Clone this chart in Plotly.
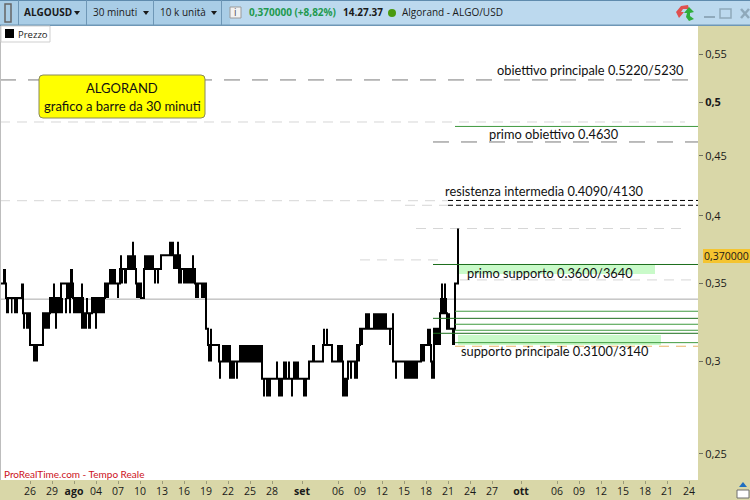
import math

import plotly.graph_objects as go

# one time slot is about 3.3 hours of the 30 minute chart
tick_slots = [30, 52, 74, 96, 118, 140, 162, 184, 206, 228, 250, 272, 302, 338, 360, 382, 404, 426, 448, 470, 492, 521, 557, 579, 601, 623, 645, 667, 689]
tick_labels = ["26", "29", "<b>ago</b>", "04", "07", "10", "13", "16", "19", "22", "25", "28", "<b>set</b>", "06", "09", "12", "15", "18", "21", "24", "27", "<b>ott</b>", "06", "09", "12", "15", "18", "21", "24"]
price_ticks = [0.25, 0.3, 0.35, 0.4, 0.45, 0.5, 0.55]
price_labels = ["0,25", "0,3", "0,35", "0,4", "0,45", "<b>0,5</b>", "0,55"]

step_slots = [1, 6, 23, 30, 43, 50, 61, 67, 68, 73, 83, 92, 105, 120, 136, 141, 144, 161, 180, 195, 206, 208, 219, 262, 309, 323, 332, 343, 348, 357, 360, 393, 421, 431, 434, 440, 447, 455, 458, 459]
step_prices = [0.35, 0.34, 0.33, 0.31, 0.33, 0.34, 0.35, 0.34, 0.35, 0.34, 0.33, 0.34, 0.35, 0.36, 0.35, 0.34, 0.36, 0.37, 0.36, 0.35, 0.32, 0.31, 0.30, 0.29, 0.30, 0.31, 0.30, 0.29, 0.30, 0.31, 0.32, 0.30, 0.31, 0.30, 0.32, 0.33, 0.32, 0.35, 0.37, 0.37]

block_start = [3, 6, 11, 14, 21, 23, 26, 33, 42, 49, 53, 55, 65, 68, 70, 69, 73, 81, 81, 86, 88, 92, 95, 104, 109, 117, 120, 121, 124, 127, 132, 136, 144, 154, 157, 169, 173, 177, 178, 183, 192, 195, 201, 207, 208, 210, 219, 222, 229, 236, 239, 263, 266, 276, 278, 283, 288, 291, 293, 303, 312, 323, 326, 337, 342, 350, 354, 356, 360, 365, 373, 389, 392, 395, 404, 421, 427, 431, 434, 440, 441, 444, 446, 452, 457]
block_end = [6, 9, 12.5, 18, 24, 25, 30, 38, 50, 63, 55, 57, 67, 73, 73, 71, 83, 83, 87, 88, 91, 105, 97, 109, 116, 119, 122, 123, 127, 136, 134, 141, 154, 156, 159, 174, 180, 179, 182, 195, 194, 199, 205, 209, 212, 212, 221, 231, 235, 238, 263, 265, 271, 278, 283, 287, 290, 293, 299, 307, 315, 325, 328, 343, 348, 352, 358, 360, 363, 370, 387, 391, 394, 397, 418, 425, 431, 435, 441, 447, 443, 446, 450, 455, 459]
block_high = [0.36, 0.34, 0.34, 0.34, 0.35, 0.33, 0.33, 0.31, 0.33, 0.34, 0.35, 0.33, 0.34, 0.35, 0.36, 0.34, 0.34, 0.35, 0.33, 0.34, 0.33, 0.34, 0.33, 0.35, 0.36, 0.35, 0.37, 0.36, 0.36, 0.37, 0.38, 0.35, 0.37, 0.36, 0.36, 0.38, 0.37, 0.38, 0.36, 0.36, 0.37, 0.35, 0.35, 0.32, 0.31, 0.32, 0.30, 0.31, 0.30, 0.30, 0.31, 0.29, 0.29, 0.30, 0.29, 0.30, 0.30, 0.29, 0.30, 0.29, 0.31, 0.32, 0.32, 0.31, 0.29, 0.30, 0.30, 0.31, 0.32, 0.33, 0.33, 0.32, 0.33, 0.30, 0.30, 0.31, 0.32, 0.30, 0.32, 0.34, 0.35, 0.35, 0.33, 0.32, 0.39]
block_low = [0.35, 0.33, 0.33, 0.33, 0.34, 0.32, 0.32, 0.30, 0.32, 0.33, 0.34, 0.32, 0.33, 0.34, 0.35, 0.33, 0.33, 0.34, 0.32, 0.33, 0.32, 0.33, 0.32, 0.34, 0.35, 0.34, 0.36, 0.35, 0.35, 0.36, 0.37, 0.34, 0.36, 0.35, 0.35, 0.37, 0.36, 0.37, 0.35, 0.35, 0.36, 0.34, 0.34, 0.31, 0.30, 0.31, 0.29, 0.30, 0.29, 0.29, 0.30, 0.28, 0.28, 0.29, 0.28, 0.29, 0.29, 0.28, 0.29, 0.28, 0.30, 0.31, 0.31, 0.30, 0.28, 0.29, 0.29, 0.30, 0.31, 0.32, 0.32, 0.31, 0.32, 0.29, 0.29, 0.30, 0.31, 0.29, 0.31, 0.33, 0.34, 0.34, 0.32, 0.31, 0.35]

# horizontal levels drawn on the chart: price, first slot, last slot
dark_dash_levels = [(0.5228, 0, 693), (0.4626, 433, 698)]
light_dash_levels = [(0.4812, 0, 685), (0.412, 0, 448), (0.4083, 405, 448), (0.39, 416, 685), (0.3666, 360, 445), (0.3524, 460, 698)]
black_dash_levels = [(0.4122, 448, 698), (0.4083, 448, 698)]
green_levels = [(0.477, 455, 698), (0.3313, 455, 698), (0.3229, 455, 698), (0.3191, 455, 698), (0.3114, 455, 698)]
dark_green_levels = [(0.3633, 433, 698), (0.3267, 433, 698), (0.3172, 433, 698)]
support_zones = [(0.3565, 0.3633, 458, 655), (0.31, 0.3161, 458, 661)]

notes = [
    ("obiettivo principale 0.5220/5230", 590.5, 0.533),
    ("primo obiettivo 0.4630", 553.5, 0.4699),
    ("resistenza intermedia 0.4090/4130", 544, 0.4198),
    ("primo supporto 0.3600/3640", 550, 0.3573),
    ("supporto principale 0.3100/3140", 555, 0.3063),
]

PLOT_TOP, PLOT_BOTTOM, PLOT_RIGHT = 26, 480, 698
Y_TOP, Y_BOTTOM = 0.5815, 0.2375


def px(x):
    return x / PLOT_RIGHT


def py(y):
    return (PLOT_BOTTOM - y) / (PLOT_BOTTOM - PLOT_TOP)


def paper_rect(x0, y0, x1, y1, fill, line=None, width=1):
    return dict(type="rect", xref="paper", yref="paper", x0=px(x0), x1=px(x1), y0=py(y0), y1=py(y1),
                fillcolor=fill, line=dict(color=line or fill, width=width if line else 0), layer="above")


def paper_path(points, fill=None, line=None, width=1):
    d = "M " + " L ".join(f"{px(x)},{py(y)}" for x, y in points)
    if fill:
        d += " Z"
    return dict(type="path", xref="paper", yref="paper", path=d, fillcolor=fill or "rgba(0,0,0,0)",
                line=dict(color=line or "rgba(0,0,0,0)", width=width), layer="above")


def paper_text(text, x, y, size=10, color="#1a1a1a", anchor="left", family="Open Sans"):
    return dict(text=text, xref="paper", yref="paper", x=px(x), y=py(y), xanchor=anchor, yanchor="middle",
                showarrow=False, font=dict(size=size, color=color, family=family), bgcolor="rgba(0,0,0,0)", borderpad=0)


block_x, block_y = [], []
for x0, x1, hi, lo in zip(block_start, block_end, block_high, block_low):
    block_x += [x0, x1, x1, x0, x0, None]
    block_y += [hi, hi, lo, lo, hi, None]

fig = go.Figure()
fig.add_trace(go.Scatter(x=block_x, y=block_y, mode="lines", fill="toself", fillcolor="#000000",
                         line=dict(color="#000000", width=0), showlegend=False, hoverinfo="skip"))
fig.add_trace(go.Scatter(x=step_slots, y=step_prices, mode="lines", line=dict(color="#000000", width=2, shape="hv"),
                         name="Prezzo", showlegend=False))

shapes = []
# zones go under the price, levels over it
for lo, hi, x0, x1 in support_zones:
    shapes.append(dict(type="rect", x0=x0, x1=x1, y0=lo, y1=hi, fillcolor="#c9fac9", line=dict(width=0), layer="below"))


def level_lines(levels, color, width=1, dash="solid", layer="above"):
    for value, x0, x1 in levels:
        shapes.append(dict(type="line", x0=x0, x1=x1, y0=value, y1=value, layer=layer,
                           line=dict(color=color, width=width, dash=dash)))


level_lines(light_dash_levels, "#d6d6d6", dash="10px,7px", layer="below")
level_lines([(0.3393, 0, 698)], "#a8a8a8", layer="below")
level_lines([(0.3092, 455, 698)], "#e9b566", dash="10px,7px", layer="below")
level_lines(dark_dash_levels, "#7a7a7a", dash="16px,12px")
level_lines(black_dash_levels, "#000000", dash="5px,3px")
level_lines(green_levels, "#3f9a3f")
level_lines(dark_green_levels, "#1c6e1c")

# window toolbar
shapes.append(paper_rect(0, 0, 750, 25, "#bcd9ee"))
shapes.append(paper_rect(0, 0, 230, 25, "#a9cde6"))
shapes.append(paper_rect(0, 0, 750, 1, "#5f8bad"))
shapes.append(paper_rect(0, 24.5, 750, 26, "#6e97b6"))
for sep in [18, 86, 153, 221]:
    shapes.append(paper_rect(sep, 0, sep + 1, 25, "#6e97b6"))
for cx in [77, 146, 214]:
    shapes.append(paper_path([(cx - 3, 11), (cx + 3, 11), (cx, 15)], fill="#1a1a1a"))
shapes.append(paper_rect(230, 7, 241, 18, "#f2f2f2", "#9a9a9a"))
shapes.append(dict(type="circle", xref="paper", yref="paper", x0=px(388), x1=px(396), y0=py(9), y1=py(17),
                   fillcolor="#4a9a10", line=dict(width=0), layer="above"))
shapes.append(paper_rect(5, 4, 11, 22, "rgba(0,0,0,0)", "#666666", 1.5))
# refresh icon and window buttons
shapes.append(paper_path([(676, 12), (681, 6), (688, 5), (689, 9), (683, 9), (681, 12), (684, 12), (679, 18)], fill="#e05050"))
shapes.append(paper_path([(694, 12), (689, 7), (684, 13), (687, 13), (686, 17), (689, 21), (694, 19), (690, 16), (690, 13)], fill="#2fae3c"))
shapes.append(paper_rect(704, 16, 715, 18, "#8fa9bb"))
shapes.append(paper_rect(720, 9, 731, 18, "rgba(0,0,0,0)", "#8fa9bb", 1.5))
shapes.append(paper_path([(741, 9), (749, 18)], line="#8fa9bb", width=2.5))
shapes.append(paper_path([(749, 9), (741, 18)], line="#8fa9bb", width=2.5))

# chart furniture
shapes.append(paper_rect(0, 26, 1, 480, "#bdbdbd"))
shapes.append(paper_rect(1, 26, 50, 42, "#ffffff", "#cfcfcf"))
shapes.append(paper_rect(5, 29, 14, 38, "#000000"))
r = 4
shapes.append(dict(type="path", xref="paper", yref="paper", layer="above", fillcolor="#ffff00",
                   line=dict(color="#8a8a5a", width=1),
                   path=f"M {px(39 + r)},{py(75)} L {px(205 - r)},{py(75)} Q {px(205)},{py(75)} {px(205)},{py(75 + r)} "
                        f"L {px(205)},{py(118 - r)} Q {px(205)},{py(118)} {px(205 - r)},{py(118)} "
                        f"L {px(39 + r)},{py(118)} Q {px(39)},{py(118)} {px(39)},{py(118 - r)} "
                        f"L {px(39)},{py(75 + r)} Q {px(39)},{py(75)} {px(39 + r)},{py(75)} Z"))
shapes.append(paper_rect(703, 249, 750, 263, "#f4c430"))
shapes.append(paper_rect(737, 490, 749, 498, "#ffffff", "#6e6e6e"))
shapes.append(paper_path([(743, 482), (747, 487), (739, 487)], fill="#1f6fc0"))

annotations = [
    dict(text=t, x=x, y=math.log10(v), xanchor="center", yanchor="middle", showarrow=False,
         font=dict(size=12.8, color="#111111", family="Lato"))
    for t, x, v in notes
]
annotations += [
    paper_text("<b>ALGOUSD</b>", 23, 12.5, 10),
    paper_text("30 minuti", 92, 12.5, 10),
    paper_text("10 k unità", 159, 12.5, 10),
    paper_text("i", 235.5, 12.5, 10, "#555555", "center"),
    paper_text("<b>0,370000 (+8,82%)</b>", 248, 12.5, 10, "#1f9a50"),
    paper_text("<b>14.27.37</b>", 342, 12.5, 10),
    paper_text("Algorand - ALGO/USD", 401, 12.5, 10),
    paper_text("Prezzo", 17, 34, 9.5),
    paper_text("ALGORAND", 122, 88, 13, "#111111", "center", "Lato"),
    paper_text("grafico a barre da 30 minuti", 122, 106, 13, "#111111", "center", "Lato"),
    paper_text("0,370000", 726.5, 256, 10.5, "#1a1a1a", "center"),
    paper_text("ProRealTime.com - Tempo Reale", 3, 474, 10, "#cc1122", family="Lato"),
]

fig.update_layout(
    width=750, height=500,
    margin=dict(l=0, r=52, t=26, b=20),
    paper_bgcolor="#d9d7a8", plot_bgcolor="#ffffff",
    showlegend=False,
    shapes=shapes, annotations=annotations,
    font=dict(family="Open Sans", size=11, color="#1a1a1a"),
    xaxis=dict(range=[0, PLOT_RIGHT], tickmode="array", tickvals=tick_slots, ticktext=tick_labels,
               showgrid=False, zeroline=False, ticks="outside", ticklen=3, tickcolor="#9a9a7a",
               showline=False, tickfont=dict(size=10.5), tickangle=0, ticklabelstandoff=-2),
    yaxis=dict(type="log", range=[math.log10(Y_BOTTOM), math.log10(Y_TOP)], side="right",
               tickmode="array", tickvals=price_ticks, ticktext=price_labels,
               showgrid=False, zeroline=False, ticks="outside", ticklen=4, tickcolor="#6f6f5f",
               showline=False, tickfont=dict(size=11)),
)

fig.write_html("out.html", config={"displayModeBar": False}, post_script="document.body.style.margin = '0';")
